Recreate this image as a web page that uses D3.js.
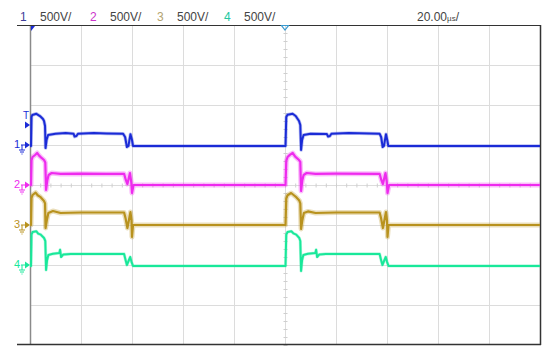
<!DOCTYPE html>
<html>
<head>
<meta charset="utf-8">
<script src="https://cdn.jsdelivr.net/npm/d3@7"></script>
<style>
  body { margin: 0; background: #fff; }
  text { font-family: "Liberation Sans", Arial, sans-serif; }
</style>
</head>
<body>
<script>

const W = 550;
const H = 357;

// channel settings
const channels = ["1", "2", "3", "4"];
const voltsPerDiv = ["500V/", "500V/", "500V/", "500V/"];
const channelColors = ["#1a2bd6", "#ee2bee", "#b8921e", "#19e89a"];
const labelColors = ["#3d3d99", "#cc33cc", "#b3a370", "#22c8a0"];
const groundDiv = [1, 0, -1, -2];   // ground marker position, in divisions from centre
const timeBase = "20.00";

// traces: [time in µs, volts]
const trace1 = [
  [0,-12],[0.4,-12],[0.6,350],[0.9,375],[2.5,390],[3.9,362],[5.1,325],[5.5,300],[5.9,238],[6.1,-38],[6.5,62],[7.1,125],
  [10,140],[14,150],[17.1,140],[17.5,105],[18.2,112],[18.8,140],[25,150],[30,145],[36.5,140],[37.3,100],[38.0,-25],
  [38.6,-12],[39.4,135],[40.0,62],[40.4,-12],[100.2,-12],[100.5,350],[101,378],[103,390],[104.2,362],[105.5,300],
  [106,250],[106.3,-62],[106.7,62],[107.3,125],[110,140],[116.4,138],[116.9,105],[117.6,112],[118.2,140],[125,150],
  [137.1,140],[137.7,100],[138.3,-25],[138.8,-12],[139.6,135],[140.1,62],[140.5,-12],[200,-12]
];
const trace2 = [
  [0,0],[0.4,0],[0.6,310],[1,350],[2,375],[2.8,400],[3.5,370],[4.3,345],[5.5,312],[6.0,280],[6.3,-62],[6.8,60],
  [7.3,125],[8.5,150],[12,138],[20,142],[30,138],[36.9,140],[37.6,60],[38.2,12],[39.2,150],[39.7,40],[40.0,-100],
  [40.6,0],[100.2,0],[100.5,300],[101,350],[102,380],[103,400],[104,355],[105.5,312],[106,290],[106.3,-75],[106.8,60],
  [107.3,125],[108.5,150],[112,138],[120,142],[137.1,140],[137.8,60],[138.4,12],[139.4,150],[139.9,40],[140.2,-100],
  [140.8,0],[200,0]
];
const trace3 = [
  [0,0],[0.4,0],[0.6,340],[1,375],[2.2,405],[3,372],[4,352],[5.5,300],[5.9,270],[6.1,-38],[6.6,60],[7.2,150],
  [9,175],[12,150],[20,156],[36.9,156],[37.5,80],[38.2,-38],[39.4,162],[39.8,60],[40.0,-150],[40.4,0],
  [100.2,0],[100.5,330],[101,372],[102.4,400],[103.5,372],[104.5,345],[105.6,305],[106,270],[106.3,-50],[106.8,60],
  [107.4,150],[109,170],[112,150],[120,156],[137.1,156],[137.7,80],[138.4,-38],[139.6,162],[140,60],[140.2,-150],
  [140.6,0],[200,0]
];
const trace4 = [
  [0,-12],[0.4,-12],[0.6,380],[1,412],[2.5,422],[3.2,392],[4.2,380],[5.5,338],[6.0,300],[6.3,-62],[6.7,60],
  [7.2,125],[9,140],[11.5,150],[11.8,190],[12.2,100],[13,130],[16,138],[36.9,138],[37.5,60],[38,0],[39.3,100],
  [39.8,40],[40.4,-12],[100.2,-12],[100.5,380],[101,412],[102.5,422],[103.3,395],[104.4,380],[105.6,338],[106,300],
  [106.3,-75],[106.7,60],[107.2,125],[109,140],[111.9,150],[112.2,190],[112.6,100],[113.4,130],[116,138],
  [137.1,138],[137.7,60],[138.2,0],[139.5,100],[140,40],[140.6,-12],[200,-12]
];
const traces = [trace1, trace2, trace3, trace4];

const pL = 30, pR = 540, pT = 25, pB = 345;

const svg = d3.select("body")
.append("svg")
.attr("width", W)
.attr("height", H);

const xScale = d3.scaleLinear()
.domain([0, 200])
.range([pL, pR]);

const yScale = d3.scaleLinear()
.domain([-4, 4])
.range([pB, pT]);

// grid
const grid = svg.append("g").attr("stroke", "#dcdcdc").attr("stroke-width", 1);
d3.range(1, 10).forEach(i => {
  grid.append("line")
  .attr("x1", xScale(i * 20) + 0.5).attr("x2", xScale(i * 20) + 0.5)
  .attr("y1", pT).attr("y2", pB);
});
d3.range(-3, 4).forEach(i => {
  grid.append("line")
  .attr("x1", pL).attr("x2", pR)
  .attr("y1", yScale(i) + 0.5).attr("y2", yScale(i) + 0.5);
});

// minor ticks on centre lines
const ticks = svg.append("g").attr("stroke", "#cfcfcf").attr("stroke-width", 1);
d3.range(0, 200, 4).forEach(t => {
  ticks.append("line")
  .attr("x1", xScale(t) + 0.5).attr("x2", xScale(t) + 0.5)
  .attr("y1", yScale(0) - 1.5).attr("y2", yScale(0) + 2.5);
});
d3.range(-4, 4, 0.2).forEach(v => {
  ticks.append("line")
  .attr("x1", xScale(100) - 1.5).attr("x2", xScale(100) + 2.5)
  .attr("y1", yScale(v) + 0.5).attr("y2", yScale(v) + 0.5);
});

// frame
svg.append("line").attr("x1", pL + 0.5).attr("x2", pL + 0.5).attr("y1", pT).attr("y2", pB)
.attr("stroke", "#8a8a8a").attr("stroke-width", 1.5);
svg.append("line").attr("x1", 17).attr("x2", pR + 1).attr("y1", pT + 0.5).attr("y2", pT + 0.5)
.attr("stroke", "#333").attr("stroke-width", 1.2);
svg.append("line").attr("x1", 17).attr("x2", pR + 1).attr("y1", pB - 0.5).attr("y2", pB - 0.5)
.attr("stroke", "#333").attr("stroke-width", 1.5);
svg.append("line").attr("x1", pR + 0.5).attr("x2", pR + 0.5).attr("y1", pT).attr("y2", pB)
.attr("stroke", "#333").attr("stroke-width", 1.5);

svg.append("clipPath").attr("id", "plot")
.append("rect").attr("x", pL).attr("y", pT).attr("width", pR - pL).attr("height", pB - pT);

// waveforms: a faint wide band under each trace stands in for the scope's noise
const noiseWidth = [3.5, 5, 5, 3.2];
traces.forEach((tr, i) => {
  const line = d3.line()
  .x(d => xScale(d[0]))
  .y(d => yScale(groundDiv[i] + d[1] / 500));
  svg.append("path")
  .datum(tr)
  .attr("clip-path", "url(#plot)")
  .attr("fill", "none")
  .attr("stroke", channelColors[i])
  .attr("stroke-opacity", 0.3)
  .attr("stroke-width", noiseWidth[i])
  .attr("stroke-linejoin", "round")
  .attr("d", line);
  svg.append("path")
  .datum(tr)
  .attr("clip-path", "url(#plot)")
  .attr("fill", "none")
  .attr("stroke", channelColors[i])
  .attr("stroke-width", i === 1 || i === 2 ? 2.2 : 2)
  .attr("stroke-linejoin", "round")
  .attr("d", line);
});

// ground markers on the left
channels.forEach((c, i) => {
  const y = yScale(groundDiv[i]);
  const g = svg.append("g").attr("fill", channelColors[i]).attr("stroke", channelColors[i]);
  g.append("path").attr("stroke", "none").attr("d", `M25,${y - 3.5} L30,${y} L25,${y + 3.5} Z`);
  g.append("line").attr("x1", 21).attr("x2", 25).attr("y1", y).attr("y2", y).attr("stroke-width", 1);
  g.append("path").attr("fill", "none").attr("stroke-width", 1)
  .attr("d", `M22,${y} V${y + 5} M19,${y + 5} H25 M20,${y + 7} H24 M21.5,${y + 9} H22.5`);
  g.append("text").text(c)
  .attr("stroke", "none")
  .attr("x", 20).attr("y", y + 3)
  .attr("text-anchor", "end")
  .style("font-size", "11px");
});

// trigger level marker
const trigY = yScale(groundDiv[0] + 250 / 500);
svg.append("path").attr("fill", channelColors[0]).attr("d", `M25,${trigY - 3.5} L30,${trigY} L25,${trigY + 3.5} Z`);
svg.append("text").text("T").attr("x", 26).attr("y", trigY - 6).attr("text-anchor", "middle")
.attr("fill", channelColors[0]).style("font-size", "10px");

// trigger position and horizontal centre markers at top
svg.append("path").attr("fill", channelColors[0])
.attr("d", `M${xScale(0.4)},${pT + 1} l4,0 l-4,5 Z`);
svg.append("path").attr("fill", "none").attr("stroke", "#3a9ad0").attr("stroke-width", 1.2)
.attr("d", `M${xScale(100) - 3.5},${pT + 0.5} L${xScale(100) + 3.5},${pT + 0.5} L${xScale(100)},${pT + 5} Z`);

// header
const header = svg.append("g").style("font-size", "12px");
const headerX = [20, 90, 157, 224];
channels.forEach((c, i) => {
  header.append("text").text(c).attr("x", headerX[i]).attr("y", 21).attr("fill", labelColors[i]);
  header.append("text").text(voltsPerDiv[i]).attr("x", headerX[i] + 20).attr("y", 21).attr("fill", "#444");
});
const tb = header.append("text").attr("x", 417).attr("y", 21).attr("fill", "#444");
tb.append("tspan").text(timeBase);
tb.append("tspan").text("µs").style("font-size", "8px");
tb.append("tspan").text("/");

</script>
</body>
</html>
